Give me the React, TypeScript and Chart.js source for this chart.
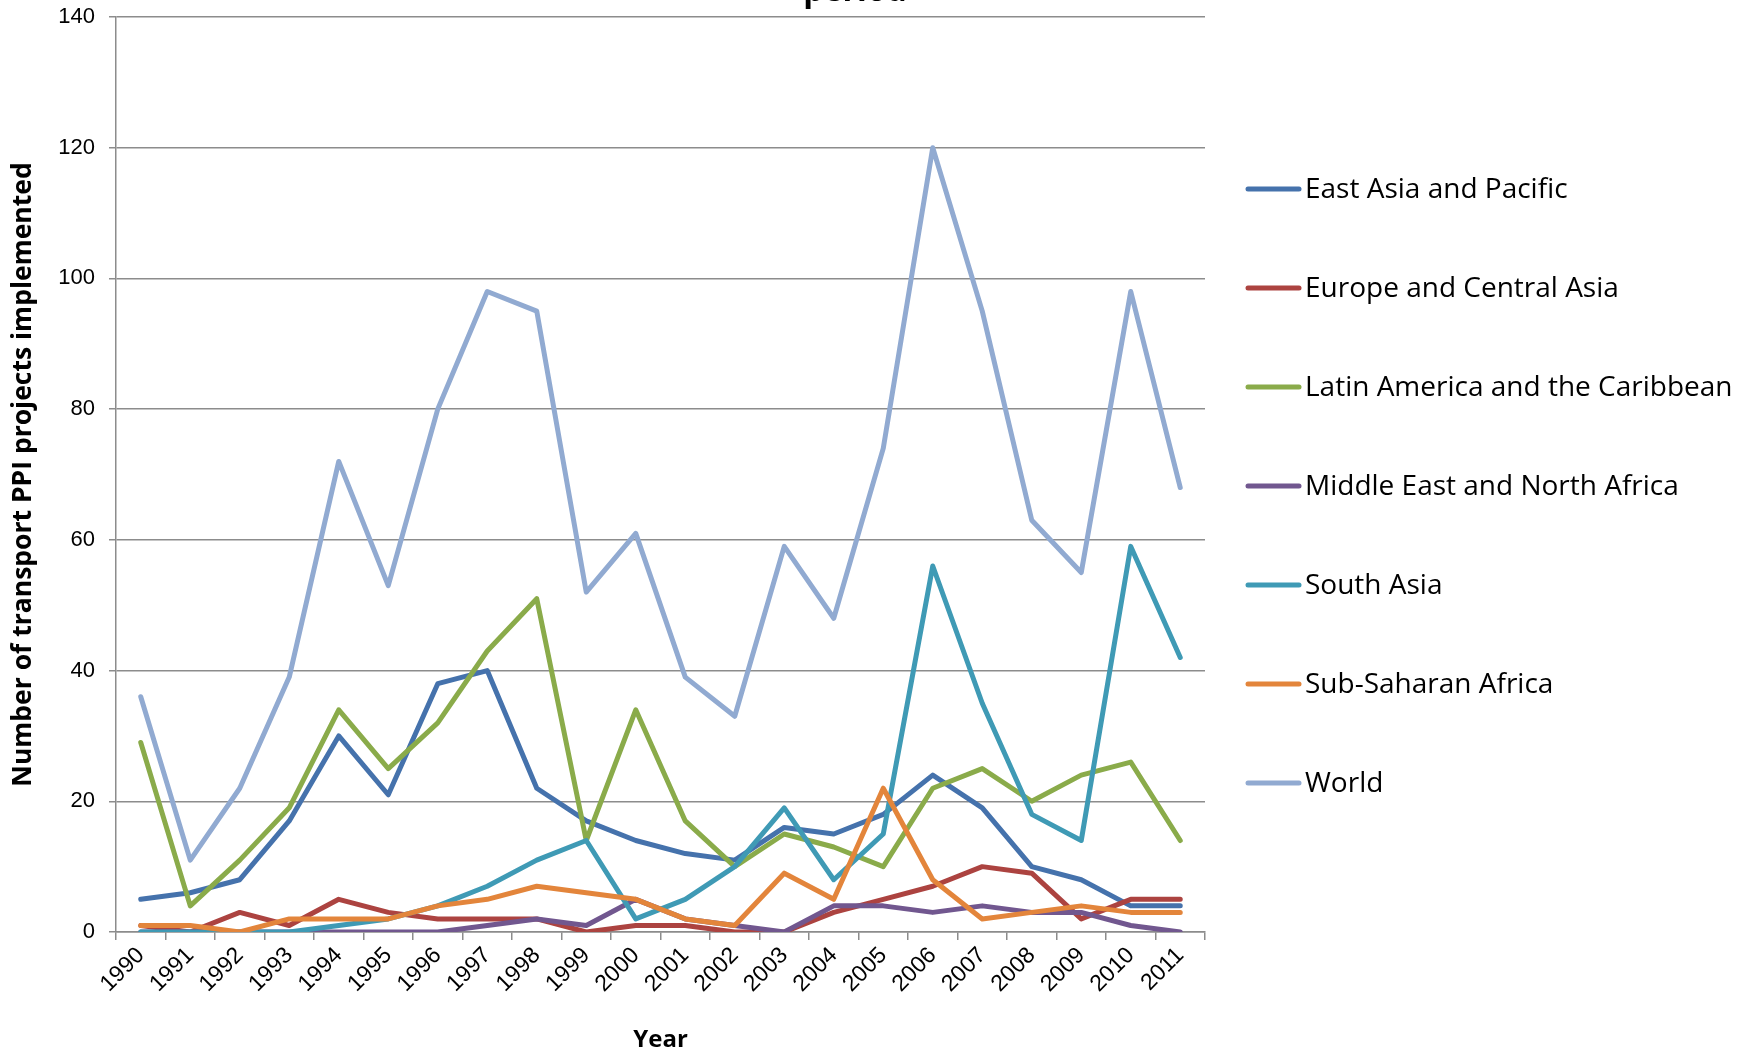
import React, { useEffect, useRef } from 'react';
import { Chart, registerables } from 'chart.js';

Chart.register(...registerables);

const years = ['1990', '1991', '1992', '1993', '1994', '1995', '1996', '1997', '1998', '1999', '2000', '2001', '2002', '2003', '2004', '2005', '2006', '2007', '2008', '2009', '2010', '2011'];
const eastAsia = [5, 6, 8, 17, 30, 21, 38, 40, 22, 17, 14, 12, 11, 16, 15, 18, 24, 19, 10, 8, 4, 4];
const europe = [1, 0, 3, 1, 5, 3, 2, 2, 2, 0, 1, 1, 0, 0, 3, 5, 7, 10, 9, 2, 5, 5];
const latinAmerica = [29, 4, 11, 19, 34, 25, 32, 43, 51, 14, 34, 17, 10, 15, 13, 10, 22, 25, 20, 24, 26, 14];
const middleEast = [0, 0, 0, 0, 0, 0, 0, 1, 2, 1, 5, 2, 1, 0, 4, 4, 3, 4, 3, 3, 1, 0];
const southAsia = [0, 0, 0, 0, 1, 2, 4, 7, 11, 14, 2, 5, 10, 19, 8, 15, 56, 35, 18, 14, 59, 42];
const subSaharan = [1, 1, 0, 2, 2, 2, 4, 5, 7, 6, 5, 2, 1, 9, 5, 22, 8, 2, 3, 4, 3, 3];
const world = [36, 11, 22, 39, 72, 53, 80, 98, 95, 52, 61, 39, 33, 59, 48, 74, 120, 95, 63, 55, 98, 68];

const seriesNames = ['East Asia and Pacific', 'Europe and Central Asia', 'Latin America and the Caribbean', 'Middle East and North Africa', 'South Asia', 'Sub-Saharan Africa', 'World'];
const seriesColors = ['#4572AC', '#AC4340', '#8AAB4A', '#71578F', '#3F9AB5', '#E3853B', '#91AAD1'];
const seriesValues = [eastAsia, europe, latinAmerica, middleEast, southAsia, subSaharan, world];

const yTitle = 'Number of transport PPI projects implemented';
const xTitle = 'Year';
const titleTail = 'period';

const tickFont = "'Liberation Sans Narrow', 'Liberation Sans', sans-serif";
const textFont = "'Open Sans', 'Noto Sans', sans-serif";

const legendPlugin = {
  id: 'sideLegend',
  afterDraw(chart: any) {
    const ctx = chart.ctx;
    ctx.save();
    chart.data.datasets.forEach((ds: any, i: number) => {
      const y = 189 + i * 99;
      ctx.strokeStyle = ds.borderColor;
      ctx.lineWidth = 5;
      ctx.lineCap = 'round';
      ctx.beginPath();
      ctx.moveTo(1248, y);
      ctx.lineTo(1299, y);
      ctx.stroke();
      ctx.fillStyle = '#000';
      ctx.font = `28px ${textFont}`;
      ctx.textBaseline = 'middle';
      ctx.textAlign = 'left';
      ctx.fillText(ds.label, 1305, y + 1);
    });
    ctx.restore();
  },
};

const titleTailPlugin = {
  id: 'titleTail',
  afterDraw(chart: any) {
    const ctx = chart.ctx;
    ctx.save();
    ctx.fillStyle = '#000';
    ctx.font = `bold 32px ${textFont}`;
    ctx.textAlign = 'center';
    ctx.textBaseline = 'alphabetic';
    ctx.fillText(titleTail, 855, 1);
    ctx.restore();
  },
};

export default function App() {
  const canvasRef = useRef<HTMLCanvasElement | null>(null);

  useEffect(() => {
    const canvas = canvasRef.current;
    if (!canvas) return;
    const chart = new Chart(canvas, {
      type: 'line',
      data: {
        labels: years,
        datasets: seriesNames.map((name, i) => ({
          label: name,
          data: seriesValues[i],
          borderColor: seriesColors[i],
          backgroundColor: seriesColors[i],
          borderWidth: 5,
          pointRadius: 0,
          tension: 0,
          fill: false,
          borderCapStyle: 'round',
          borderJoinStyle: 'round',
          order: seriesNames.length - i,
        })),
      },
      options: {
        responsive: false,
        devicePixelRatio: 1,
        animation: false,
        layout: { padding: { top: 17, right: 539, bottom: 0, left: 0 } },
        plugins: {
          legend: { display: false },
          tooltip: { enabled: false },
          title: { display: false },
        },
        scales: {
          x: {
            offset: true,
            grid: {
              offset: true,
              drawOnChartArea: false,
              drawTicks: true,
              tickLength: 8,
              color: '#8c8c8c',
              lineWidth: 1.5,
            },
            border: { display: true, color: '#8c8c8c', width: 1.5 },
            ticks: {
              autoSkip: false,
              maxRotation: 45,
              minRotation: 45,
              color: '#000',
              padding: 2,
              font: { family: tickFont, size: 23 },
            },
            title: {
              display: true,
              text: xTitle,
              color: '#000',
              padding: { top: 0, bottom: 0 },
              font: { family: textFont, size: 24, weight: 'bold', lineHeight: 1 },
            },
            afterFit(scale: any) {
              scale.height = 120;
              scale.paddingLeft = 0;
              scale.paddingRight = 0;
            },
          },
          y: {
            min: 0,
            max: 140,
            ticks: {
              stepSize: 20,
              color: '#000',
              padding: 14,
              font: { family: tickFont, size: 22 },
            },
            grid: {
              color: '#8c8c8c',
              lineWidth: 1.5,
              tickLength: 7,
              drawTicks: true,
            },
            border: { display: true, color: '#8c8c8c', width: 1.5 },
            title: {
              display: true,
              text: yTitle,
              color: '#000',
              padding: { top: 8, bottom: 0 },
              font: { family: textFont, size: 26.5, weight: 'bold' },
            },
            afterFit(scale: any) {
              scale.width = 116;
              scale.paddingTop = 0;
              scale.paddingBottom = 0;
            },
          },
        },
      },
      plugins: [legendPlugin, titleTailPlugin],
    } as any);
    return () => chart.destroy();
  }, []);

  return (
    <div style={{ position: 'fixed', left: 0, top: 0, width: 1744, height: 1052, background: '#fff' }}>
      <canvas ref={canvasRef} width={1744} height={1052} style={{ width: 1744, height: 1052, display: 'block' }} />
    </div>
  );
}
